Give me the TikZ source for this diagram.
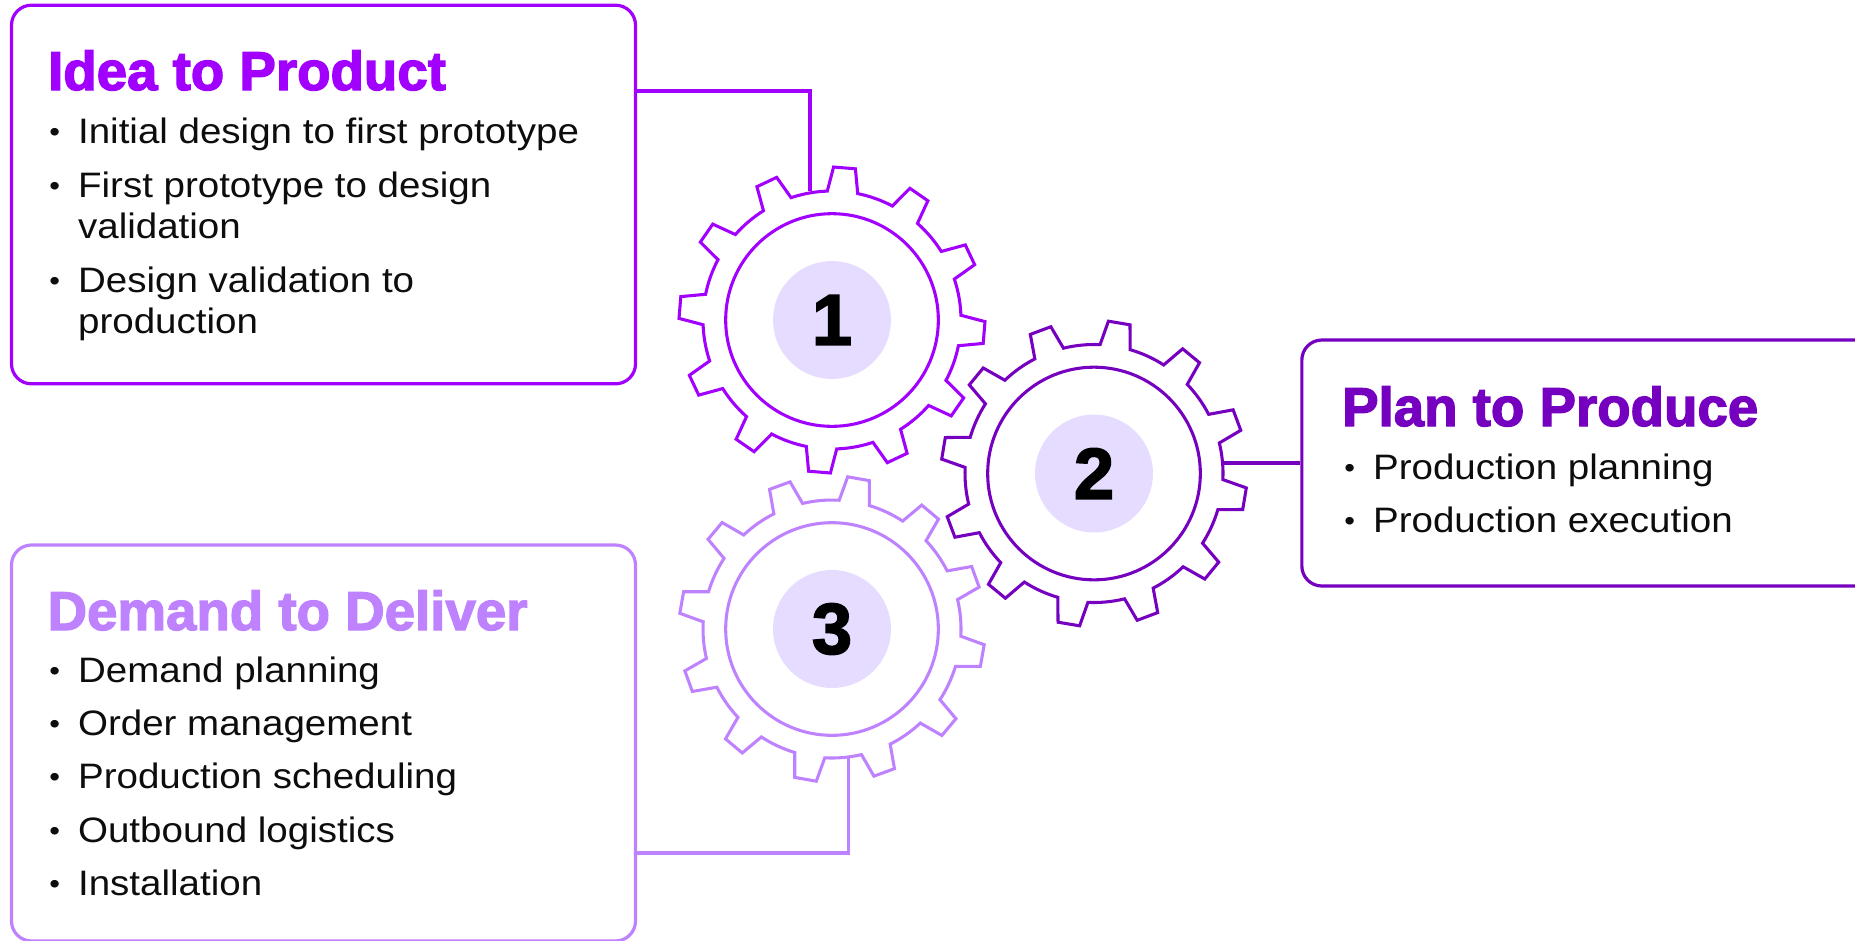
\documentclass[tikz,border=0pt]{standalone}
\usepackage{fontspec}
\setmainfont[FakeStretch=1.09]{Liberation Sans}
\newfontfamily\headfont[UprightFont={* Bold},FakeBold=2.4]{Liberation Sans}
\definecolor{ideacol}{HTML}{A100FF}
\definecolor{plancol}{HTML}{7500C0}
\definecolor{demandcol}{HTML}{BE82FF}
\definecolor{diskcol}{HTML}{E6DCFF}
\tikzset{every picture/.style={line width=2.4pt}}
\tikzset{
  boxframe/.style={draw,rounded corners=15pt,inner sep=0pt,line width=2.4pt},
  headtext/.style={anchor=base west,inner sep=0pt,font=\headfont\fontsize{41}{41}\selectfont},
  itemtext/.style={anchor=base west,inner sep=0pt,text=black!95,font=\fontsize{26.5}{26.5}\selectfont},
  ringline/.style={draw,circle,minimum size=159.5pt,inner sep=0pt,line width=2.3pt},
  numdisk/.style={circle,fill=diskcol,minimum size=88.5pt,inner sep=0pt,text=black,font=\headfont\fontsize{54}{54}\selectfont},
}
\newcommand{\itemdot}{\llap{\fontsize{21}{21}\selectfont\raisebox{1.5pt}{\textbullet}\hspace{13.5pt}}}
% one cog outline: centre x, centre y, phase, colour
\newcommand{\cogwheel}[4]{
  \begin{scope}[shift={(#1,#2)},yscale=-1]
  \draw [color=#4,line width=2.3pt,line join=miter]  ({#3-6.8}:129)
    \foreach \k in {0,...,11} {
      -- ({#3+30*\k-4.1}:153) -- ({#3+30*\k+4.1}:153) -- ({#3+30*\k+6.8}:129)
      arc[start angle={#3+30*\k+6.8},delta angle=16.4,radius=129]
    } -- cycle ;
  \end{scope}
}

\begin{document}
\begin{tikzpicture}[x=0.75pt,y=0.75pt,yscale=-1,xscale=1]
\useasboundingbox (0,0) rectangle (1855,940);

%Idea box
\node [boxframe,color=ideacol,minimum width=468pt,minimum height=284pt] (ideabox) at (323.5,194.5) {};
\node [headtext,text=ideacol] (ideahead) at (46.5,90) {Idea to Product};
\node [itemtext] (idea1) at (76.5,143) {\itemdot Initial design to first prototype};
\node [itemtext] (idea2) at (76.5,197) {\itemdot First prototype to design};
\node [itemtext] (idea2b) at (76.5,238) {validation};
\node [itemtext] (idea3) at (76.5,292) {\itemdot Design validation to};
\node [itemtext] (idea3b) at (76.5,333) {production};

%Plan box
\node [boxframe,color=plancol,minimum width=430pt,minimum height=184.5pt] (planbox) at (1588.5,463) {};
\node [headtext,text=plancol] (planhead) at (1340.5,426) {Plan to Produce};
\node [itemtext] (plan1) at (1371.5,479) {\itemdot Production planning};
\node [itemtext] (plan2) at (1371.5,532) {\itemdot Production execution};

%Demand box
\node [boxframe,color=demandcol,minimum width=468pt,minimum height=297pt] (demandbox) at (323.5,743) {};
\node [headtext,text=demandcol] (demandhead) at (46,630) {Demand to Deliver};
\node [itemtext] (demand1) at (76.5,682) {\itemdot Demand planning};
\node [itemtext] (demand2) at (76.5,735) {\itemdot Order management};
\node [itemtext] (demand3) at (76.5,788) {\itemdot Production scheduling};
\node [itemtext] (demand4) at (76.5,842) {\itemdot Outbound logistics};
\node [itemtext] (demand5) at (76.5,895) {\itemdot Installation};

%Cogs
\cogwheel{832}{320}{85.3}{ideacol}
\cogwheel{1094}{473.5}{80.5}{plancol}
\cogwheel{832}{629}{80}{demandcol}

\node [ringline,color=ideacol] (ring1) at (832,320) {};
\node [ringline,color=plancol] (ring2) at (1094,473.5) {};
\node [ringline,color=demandcol] (ring3) at (832,629) {};
\node [numdisk] (num1) at (832,320) {1};
\node [numdisk] (num2) at (1094,473.5) {2};
\node [numdisk] (num3) at (832,629) {3};

%Connectors
\coordinate (ideaknee) at (810,91);
\coordinate (ideaend) at (810,191);
\coordinate (planend) at (1224,463);
\coordinate (demandknee) at (848.5,853);
\coordinate (demandend) at (848.5,758);
\draw [color=ideacol] (ideabox.east |- ideaknee) -- (ideaknee) -- (ideaend) ;
\draw [color=plancol] (planbox.west |- planend) -- (planend) ;
\draw [color=demandcol] (demandbox.east |- demandknee) -- (demandknee) -- (demandend) ;

\end{tikzpicture}
\end{document}
